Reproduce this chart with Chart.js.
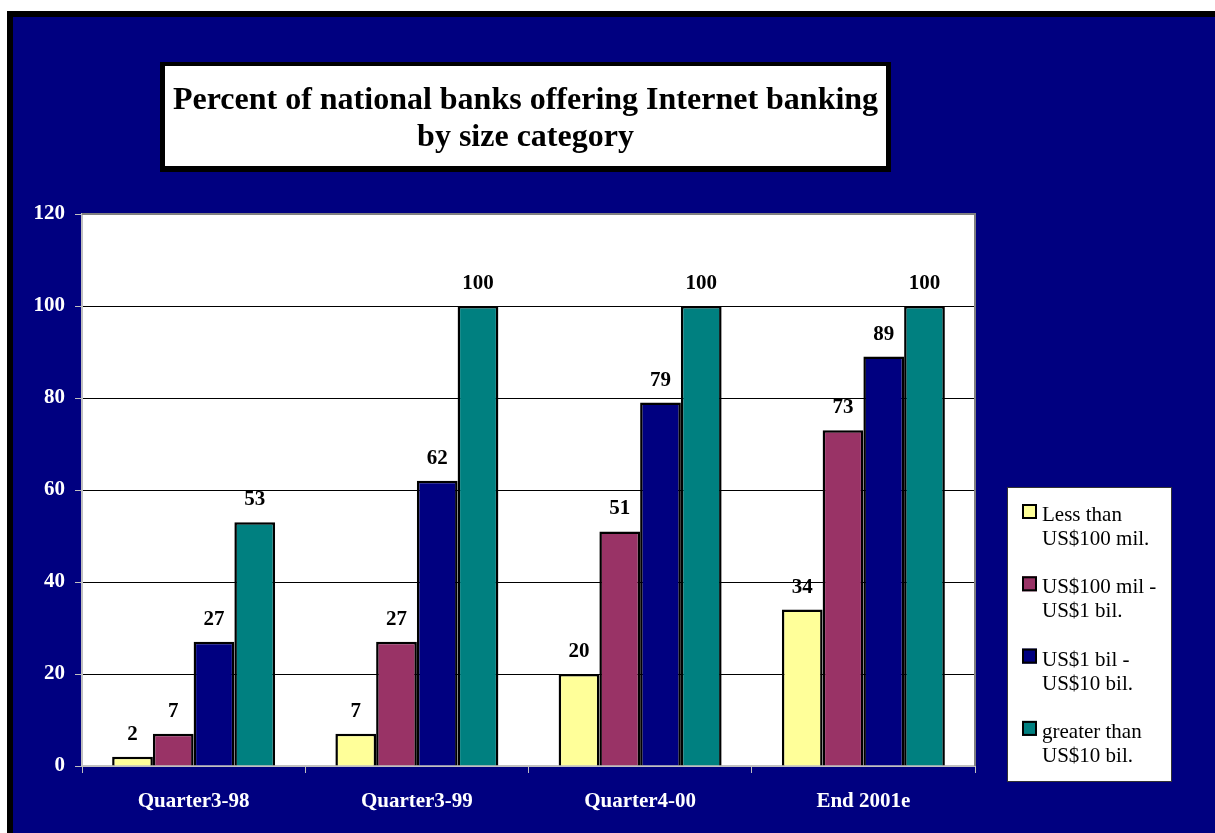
<!DOCTYPE html>
<html>
<head>
<meta charset="utf-8">
<title>Percent of national banks offering Internet banking</title>
<script src="https://cdn.jsdelivr.net/npm/chart.js@4.4.1/dist/chart.umd.min.js"></script>
<style>
  html, body { margin: 0; padding: 0; background: #ffffff; }
  #wrap { position: relative; width: 1215px; height: 833px; }
</style>
</head>
<body>
<div id="wrap"><canvas id="bankChart" width="1215" height="833"></canvas></div>
<script>
// Chart data
const categories = ['Quarter3-98', 'Quarter3-99', 'Quarter4-00', 'End 2001e'];
const under100mil = [2, 7, 20, 34];
const from100milTo1bil = [7, 27, 51, 73];
const from1bilTo10bil = [27, 62, 79, 89];
const over10bil = [53, 100, 100, 100];
const seriesNames = ['Less than US$100 mil.', 'US$100 mil - US$1 bil.', 'US$1 bil - US$10 bil.', 'greater than US$10 bil.'];
const legendLines = [
    ['Less than', 'US$100 mil.'],
    ['US$100 mil -', 'US$1 bil.'],
    ['US$1 bil -', 'US$10 bil.'],
    ['greater than', 'US$10 bil.']
];
const titleLines = ['Percent of national banks offering Internet banking', 'by size category'];
const yTicks = [0, 20, 40, 60, 80, 100, 120];

const NAVY = '#000080';
const SERIF = "'Liberation Serif', 'Times New Roman', serif";

// Page background, frame and white plot area
const backdrop = {
    id: 'backdrop',
    beforeDraw(chart) {
        const c = chart.ctx;
        const a = chart.chartArea;
        c.save();
        c.fillStyle = '#ffffff';
        c.fillRect(0, 0, chart.width, chart.height);
        c.fillStyle = '#000000';
        c.fillRect(7, 11, chart.width, chart.height);
        c.fillStyle = NAVY;
        c.fillRect(13, 17, chart.width, chart.height);
        c.fillStyle = '#ffffff';
        c.fillRect(a.left, a.top, a.right - a.left, a.bottom - a.top);
        c.restore();
    },
    beforeDatasetsDraw(chart) {
        const c = chart.ctx;
        const a = chart.chartArea;
        c.save();
        c.strokeStyle = '#808080';
        c.lineWidth = 2;
        c.beginPath();
        c.moveTo(a.left, a.top);
        c.lineTo(a.right, a.top);
        c.lineTo(a.right, a.bottom);
        c.stroke();
        c.restore();
    }
};

// Value labels above each bar
const valueLabels = {
    id: 'valueLabels',
    afterDatasetsDraw(chart) {
        const c = chart.ctx;
        c.save();
        c.fillStyle = '#000000';
        c.font = 'bold 21px ' + SERIF;
        c.textAlign = 'center';
        c.textBaseline = 'alphabetic';
        chart.data.datasets.forEach((ds, i) => {
            chart.getDatasetMeta(i).data.forEach((bar, j) => {
                c.fillText(String(ds.data[j]), bar.x, bar.y - 17);
            });
        });
        c.restore();
    }
};

// Boxed title and legend
const boxes = {
    id: 'boxes',
    afterDraw(chart) {
        const c = chart.ctx;
        c.save();
        // title box
        c.fillStyle = '#000000';
        c.fillRect(160, 62, 731, 110);
        c.fillStyle = '#ffffff';
        c.fillRect(165, 66, 721, 100);
        c.fillStyle = '#000000';
        c.font = 'bold 32px ' + SERIF;
        c.textAlign = 'center';
        c.textBaseline = 'alphabetic';
        c.fillText(titleLines[0], 525.5, 109);
        c.fillText(titleLines[1], 525.5, 146);

        // legend box
        c.fillStyle = '#ffffff';
        c.fillRect(1007, 487, 165, 295);
        c.strokeStyle = '#333333';
        c.lineWidth = 1;
        c.strokeRect(1007.5, 487.5, 164, 294);
        c.font = '21px ' + SERIF;
        c.textAlign = 'left';
        chart.data.datasets.forEach((ds, i) => {
            const base = 521 + i * 72.3;
            c.fillStyle = ds.backgroundColor;
            c.fillRect(1022, base - 17, 15, 15);
            c.strokeStyle = '#000000';
            c.lineWidth = 2;
            c.strokeRect(1023, base - 16, 13, 13);
            c.fillStyle = '#000000';
            c.fillText(legendLines[i][0], 1042, base);
            c.fillText(legendLines[i][1], 1042, base + 24);
        });
        c.restore();
    }
};

const ctx = document.getElementById('bankChart').getContext('2d');
const chart = new Chart(ctx, {
    type: 'bar',
    data: {
        labels: categories,
        datasets: [
            { label: seriesNames[0], data: under100mil, backgroundColor: '#FFFF99' },
            { label: seriesNames[1], data: from100milTo1bil, backgroundColor: '#993366' },
            { label: seriesNames[2], data: from1bilTo10bil, backgroundColor: '#000080' },
            { label: seriesNames[3], data: over10bil, backgroundColor: '#008080' }
        ]
    },
    options: {
        responsive: false,
        animation: false,
        devicePixelRatio: 1,
        layout: { padding: { top: 214, right: 240, bottom: 0, left: 0 } },
        datasets: {
            bar: {
                borderColor: '#000000',
                borderWidth: 2.5,
                categoryPercentage: 0.73,
                barPercentage: 1.0
            }
        },
        plugins: {
            legend: { display: false },
            title: { display: false },
            tooltip: { enabled: false }
        },
        scales: {
            x: {
                afterFit(scale) { scale.height = 67; },
                grid: {
                    offset: true,
                    drawOnChartArea: false,
                    drawTicks: true,
                    tickLength: 7,
                    tickColor: '#c0c0c0'
                },
                border: { color: '#c0c0c0', width: 2 },
                ticks: {
                    color: '#ffffff',
                    padding: 16,
                    font: { family: SERIF, size: 21, weight: 'bold' }
                }
            },
            y: {
                min: 0,
                max: 120,
                afterFit(scale) { scale.width = 82; },
                afterBuildTicks(scale) { scale.ticks = yTicks.map(v => ({ value: v })); },
                grid: {
                    color: c => (c.tick && c.tick.value === 120 ? '#808080' : '#000000'),
                    lineWidth: 1,
                    tickLength: 7,
                    tickColor: '#c0c0c0'
                },
                border: { color: '#c0c0c0', width: 2 },
                ticks: {
                    color: '#ffffff',
                    padding: 10,
                    font: { family: SERIF, size: 21, weight: 'bold' }
                }
            }
        }
    },
    plugins: [backdrop, valueLabels, boxes]
});
</script>
</body>
</html>
